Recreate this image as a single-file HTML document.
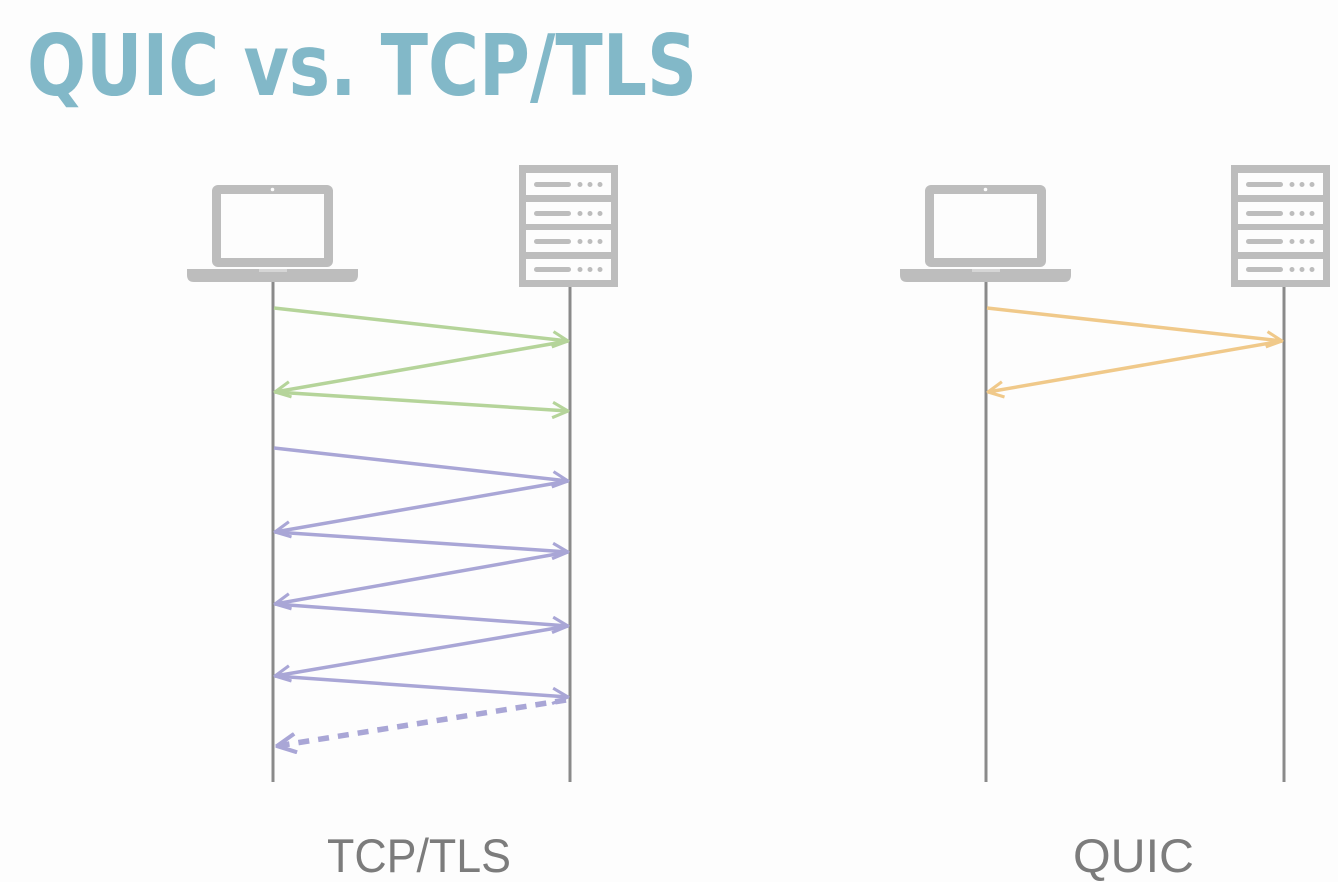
<!DOCTYPE html>
<html><head><meta charset="utf-8"><style>
html,body{margin:0;padding:0;background:#fdfdfd;}
svg{display:block;}
</style></head><body>
<svg width="1338" height="882" viewBox="0 0 1338 882" xmlns="http://www.w3.org/2000/svg">
<defs>
<g id="laptop">
  <rect x="25" y="0" width="121" height="82" rx="6" fill="#bdbdbd"/>
  <rect x="34" y="9" width="103" height="64" fill="#fdfdfd"/>
  <circle cx="85.5" cy="4.5" r="1.8" fill="#fdfdfd"/>
  <path d="M0 84 H171 V90 Q171 97 164 97 H7 Q0 97 0 90 Z" fill="#bdbdbd"/>
  <rect x="72" y="84" width="28" height="3" fill="#d5d5d5"/>
</g>
<g id="server">
  <rect x="0" y="0" width="99" height="122" fill="#bdbdbd"/>
  <g fill="#fdfdfd">
    <rect x="7" y="8" width="85" height="22"/>
    <rect x="7" y="37" width="85" height="22"/>
    <rect x="7" y="65" width="85" height="22"/>
    <rect x="7" y="94" width="85" height="21"/>
  </g>
  <g fill="#bdbdbd">
    <rect x="15" y="17" width="37" height="5" rx="2.5"/><circle cx="61" cy="19.5" r="2.5"/><circle cx="71" cy="19.5" r="2.5"/><circle cx="81" cy="19.5" r="2.5"/>
    <rect x="15" y="46" width="37" height="5" rx="2.5"/><circle cx="61" cy="48.5" r="2.5"/><circle cx="71" cy="48.5" r="2.5"/><circle cx="81" cy="48.5" r="2.5"/>
    <rect x="15" y="74" width="37" height="5" rx="2.5"/><circle cx="61" cy="76.5" r="2.5"/><circle cx="71" cy="76.5" r="2.5"/><circle cx="81" cy="76.5" r="2.5"/>
    <rect x="15" y="102" width="37" height="5" rx="2.5"/><circle cx="61" cy="104.5" r="2.5"/><circle cx="71" cy="104.5" r="2.5"/><circle cx="81" cy="104.5" r="2.5"/>
  </g>
</g>
<marker id="ag" viewBox="0 0 14 14" refX="13" refY="7" markerWidth="18" markerHeight="18" markerUnits="userSpaceOnUse" orient="auto"><path d="M1 1 L13 7 L1 13" fill="none" stroke="#b5d49a" stroke-width="2.4"/></marker>
<marker id="ap" viewBox="0 0 14 14" refX="13" refY="7" markerWidth="18" markerHeight="18" markerUnits="userSpaceOnUse" orient="auto"><path d="M1 1 L13 7 L1 13" fill="none" stroke="#a9a6d6" stroke-width="2.4"/></marker>
<marker id="apd" viewBox="0 0 14 14" refX="13" refY="7" markerWidth="22" markerHeight="22" markerUnits="userSpaceOnUse" orient="auto"><path d="M1 1 L13 7 L1 13" fill="none" stroke="#a9a6d6" stroke-width="2.6"/></marker>
<marker id="ao" viewBox="0 0 14 14" refX="13" refY="7" markerWidth="18" markerHeight="18" markerUnits="userSpaceOnUse" orient="auto"><path d="M1 1 L13 7 L1 13" fill="none" stroke="#f0c98a" stroke-width="2.4"/></marker>
</defs>

<text x="27" y="95" font-family="DejaVu Sans, sans-serif" font-weight="bold" font-size="85" fill="#82b8c8" textLength="670" lengthAdjust="spacingAndGlyphs">QUIC vs. TCP/TLS</text>

<use href="#laptop" x="187" y="185"/>
<use href="#server" x="519" y="165"/>
<use href="#laptop" x="900" y="185"/>
<use href="#server" x="1231" y="165"/>

<g stroke="#8a8a8a" stroke-width="3">
  <line x1="273" y1="282" x2="273" y2="782"/>
  <line x1="570" y1="287" x2="570" y2="782"/>
  <line x1="986" y1="282" x2="986" y2="782"/>
  <line x1="1284" y1="287" x2="1284" y2="782"/>
</g>

<g stroke="#b5d49a" stroke-width="3.5" fill="none">
  <line x1="274" y1="308" x2="568" y2="341" marker-end="url(#ag)"/>
  <line x1="568" y1="341" x2="275" y2="392" marker-end="url(#ag)"/>
  <line x1="275" y1="392" x2="568" y2="411" marker-end="url(#ag)"/>
</g>
<g stroke="#a9a6d6" stroke-width="3.5" fill="none">
  <line x1="274" y1="448" x2="568" y2="481" marker-end="url(#ap)"/>
  <line x1="568" y1="481" x2="275" y2="532" marker-end="url(#ap)"/>
  <line x1="275" y1="532" x2="568" y2="552" marker-end="url(#ap)"/>
  <line x1="568" y1="552" x2="275" y2="604" marker-end="url(#ap)"/>
  <line x1="275" y1="604" x2="568" y2="626" marker-end="url(#ap)"/>
  <line x1="568" y1="626" x2="275" y2="676" marker-end="url(#ap)"/>
  <line x1="275" y1="676" x2="568" y2="697" marker-end="url(#ap)"/>
  <line x1="566" y1="700" x2="277" y2="746" stroke-width="5.5" stroke-dasharray="11 9" marker-end="url(#apd)"/>
</g>
<g stroke="#f0c98a" stroke-width="3.5" fill="none">
  <line x1="987" y1="308" x2="1282" y2="341" marker-end="url(#ao)"/>
  <line x1="1282" y1="341" x2="988" y2="392" marker-end="url(#ao)"/>
</g>

<text x="327" y="872" font-family="Liberation Sans, sans-serif" font-size="47" fill="#7c7c7c" textLength="184" lengthAdjust="spacingAndGlyphs">TCP/TLS</text>
<text x="1073" y="872" font-family="Liberation Sans, sans-serif" font-size="47" fill="#7c7c7c" textLength="121" lengthAdjust="spacingAndGlyphs">QUIC</text>
</svg>
</body></html>
